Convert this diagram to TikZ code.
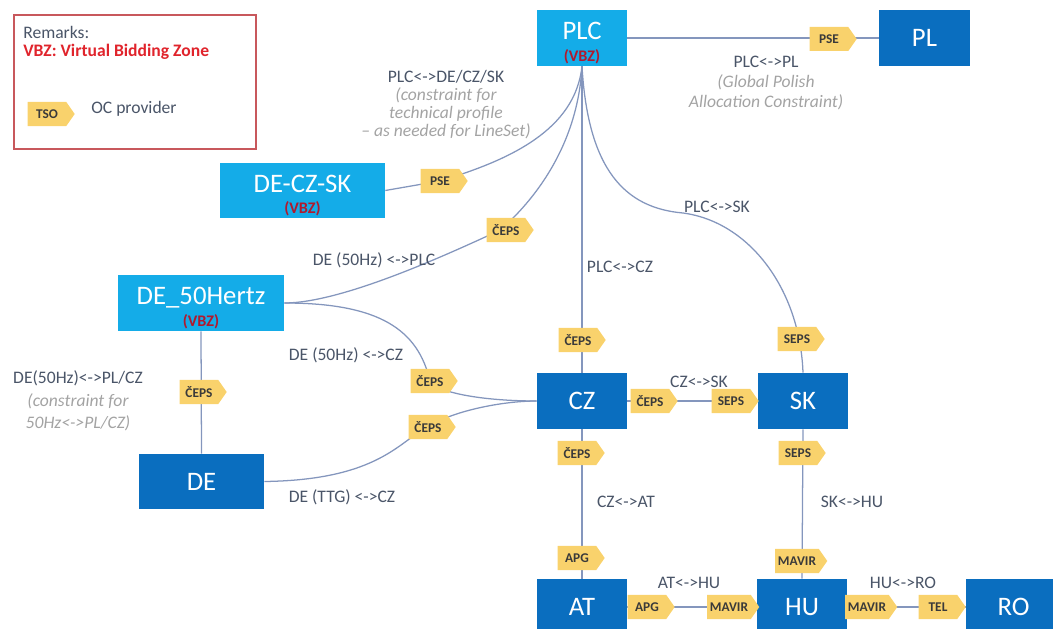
\documentclass[tikz,border=0pt]{standalone}
\usepackage{fontspec}
\setmainfont{Carlito}
\usetikzlibrary{shapes.symbols,backgrounds}
\definecolor{zonelight}{HTML}{14ACE8}
\definecolor{zonedark}{HTML}{0A6EBF}
\definecolor{vbzred}{HTML}{B01A2E}
\definecolor{legendred}{HTML}{E0242C}
\definecolor{remred}{HTML}{C8585C}
\definecolor{tsofill}{HTML}{F9D26C}
\definecolor{tsotext}{HTML}{3A3A3A}
\definecolor{linkcol}{HTML}{8496BD}
\definecolor{lblcol}{HTML}{4A5568}
\definecolor{notecol}{HTML}{A3A3A3}
\newcommand\notetext[1]{{\color{notecol}\itshape #1}}

\begin{document}
\begin{tikzpicture}[x=0.025cm, y=-0.025cm,
    vbzone/.style={rectangle, fill=zonelight, text=white, inner sep=0pt, minimum height=1.4cm,
        text height=13pt, text depth=10.8pt, font=\fontsize{19}{19}\selectfont, label={[vbzmark]south:(VBZ)}},
    bzone/.style={rectangle, fill=zonedark, text=white, inner sep=0pt, minimum height=1.4cm,
        font=\fontsize{19}{19}\selectfont},
    vbzmark/.style={anchor=south, inner sep=1pt, text depth=2pt, text=vbzred, font=\fontsize{11.5}{12}\selectfont\bfseries},
    tsotag/.style={signal, signal to=east, signal pointer angle=110, fill=tsofill, text=tsotext,
        inner xsep=2pt, inner ysep=0pt, minimum height=0.6cm, minimum width=1.175cm,
        font=\fontsize{9.5}{10}\selectfont\bfseries},
    ocline/.style={draw=linkcol, line width=0.9pt},
    lbl/.style={text=lblcol, inner sep=0pt, align=center, font=\fontsize{12.5}{14}\selectfont}]
    \useasboundingbox (0,0) rectangle (1053,629);

    \node[draw=remred, line width=0.8pt, inner sep=0pt, minimum width=6.05cm, minimum height=3.35cm] (remarks) at (135,82) {};
    \node[lbl, anchor=west] (remarksTitle) at (23,32) {Remarks:};
    \node[lbl, anchor=west, text=legendred, font=\fontsize{12.5}{14}\selectfont\bfseries] (remarksVBZ) at (23,52) {VBZ: Virtual Bidding Zone};
    \node[tsotag] (tsoLegend) at (47,114) {TSO};
    \node[lbl, anchor=west] (remarksTSO) at (91,109) {OC provider};

    \node[vbzone, minimum width=2.25cm] (PLC) at (582,38) {PLC};
    \node[bzone, minimum width=2.275cm] (PL) at (924.5,38) {PL};
    \node[vbzone, minimum width=4.125cm, minimum height=1.375cm] (DECZSK) at (302.5,190.5) {DE-CZ-SK};
    \node[vbzone, minimum width=4.15cm] (DE50) at (201,303) {DE\_50Hertz};
    \node[bzone, minimum width=3.125cm, minimum height=1.375cm] (DE) at (201.5,481.5) {DE};
    \node[bzone, minimum width=2.25cm] (CZ) at (582,401) {CZ};
    \node[bzone, minimum width=2.25cm] (SK) at (803,401) {SK};
    \node[bzone, minimum width=2.25cm] (AT) at (582,607) {AT};
    \node[bzone, minimum width=2.25cm] (HU) at (802,607) {HU};
    \node[bzone, minimum width=2.375cm] (RO) at (1013.5,607) {RO};

    \node[tsotag] (psePL) at (829,39) {PSE};
    \node[tsotag] (pseDECZSK) at (440,181) {PSE};
    \node[tsotag] (cepsPLC) at (506,230) {ČEPS};
    \node[tsotag] (cepsDE50) at (199,392) {ČEPS};
    \node[tsotag] (cepsDE50CZ) at (430,381) {ČEPS};
    \node[tsotag] (cepsDECZ) at (428,427) {ČEPS};
    \node[tsotag] (cepsPLCCZ) at (578,340) {ČEPS};
    \node[tsotag] (sepsPLCSK) at (797,339) {SEPS};
    \node[tsotag] (cepsCZSK) at (650,401) {ČEPS};
    \node[tsotag] (sepsCZSK) at (731,401) {SEPS};
    \node[tsotag] (cepsCZAT) at (577,453) {ČEPS};
    \node[tsotag] (sepsSKHU) at (798,453) {SEPS};
    \node[tsotag] (apgCZAT) at (577,558) {APG};
    \node[tsotag] (mavirSKHU) at (797,561) {MAVIR};
    \node[tsotag] (apgATHU) at (647,607) {APG};
    \node[tsotag] (mavirATHU) at (729,607) {MAVIR};
    \node[tsotag] (mavirHURO) at (867,607) {MAVIR};
    \node[tsotag] (telHURO) at (938,607) {TEL};

    \node[lbl] (lblPLCPL) at (766,83) {PLC<->PL\\\notetext{(Global Polish}\\\notetext{Allocation Constraint)}};
    \node[lbl, font=\fontsize{12.5}{12.8}\selectfont] (lblPLCDE) at (446,105) {PLC<->DE/CZ/SK\\\notetext{(constraint for}\\\notetext{technical profile}\\\notetext{-- as needed for LineSet)}};
    \node[lbl] (lblDEPLC) at (374,260) {DE (50Hz) <->PLC};
    \node[lbl] (lblPLCCZ) at (620,267) {PLC<->CZ};
    \node[lbl] (lblPLCSK) at (717,207) {PLC<->SK};
    \node[lbl] (lblDECZ) at (346,355) {DE (50Hz) <->CZ};
    \node[lbl, font=\fontsize{12.5}{16}\selectfont] (lblDEPL) at (78,401) {DE(50Hz)<->PL/CZ\\\notetext{(constraint for}\\\notetext{50Hz<->PL/CZ)}};
    \node[lbl] (lblCZSK) at (699,382) {CZ<->SK};
    \node[lbl] (lblCZAT) at (626,502) {CZ<->AT};
    \node[lbl] (lblSKHU) at (852,502) {SK<->HU};
    \node[lbl] (lblTTG) at (342,497) {DE (TTG) <->CZ};
    \node[lbl] (lblATHU) at (689,583) {AT<->HU};
    \node[lbl] (lblHURO) at (903,583) {HU<->RO};

    \begin{scope}[on background layer]
        \draw[ocline] (PLC.east) -- (PL.west);
        \draw[ocline] (PLC.south) .. controls (575,130) and (510,160) .. (pseDECZSK.center) -- (DECZSK.east);
        \draw[ocline] (PLC.south) .. controls (578,140) and (540,195) .. ([xshift=-4pt]cepsPLC.center) .. controls (440,258) and (340,303) .. (DE50.east);
        \draw[ocline] (PLC.south) -- (CZ.north);
        \draw[ocline] (PLC.south) .. controls (588,170) and (625,208) .. (683,213) .. controls (750,222) and (800,290) .. (SK.north);
        \draw[ocline] (DE50.south) -- (DE.north);
        \draw[ocline] (DE50.east) .. controls (380,303) and (418,330) .. (cepsDE50CZ.center) .. controls (436,392) and (480,401) .. (CZ.west);
        \draw[ocline] (DE.east) .. controls (380,480) and (400,440) .. (cepsDECZ.center) .. controls (450,412) and (500,401) .. (CZ.west);
        \draw[ocline] (CZ.east) -- (SK.west);
        \draw[ocline] (CZ.south) -- (AT.north);
        \draw[ocline] (SK.south) -- (HU.north);
        \draw[ocline] (AT.east) -- (HU.west);
        \draw[ocline] (HU.east) -- (RO.west);
    \end{scope}
\end{tikzpicture}
\end{document}
